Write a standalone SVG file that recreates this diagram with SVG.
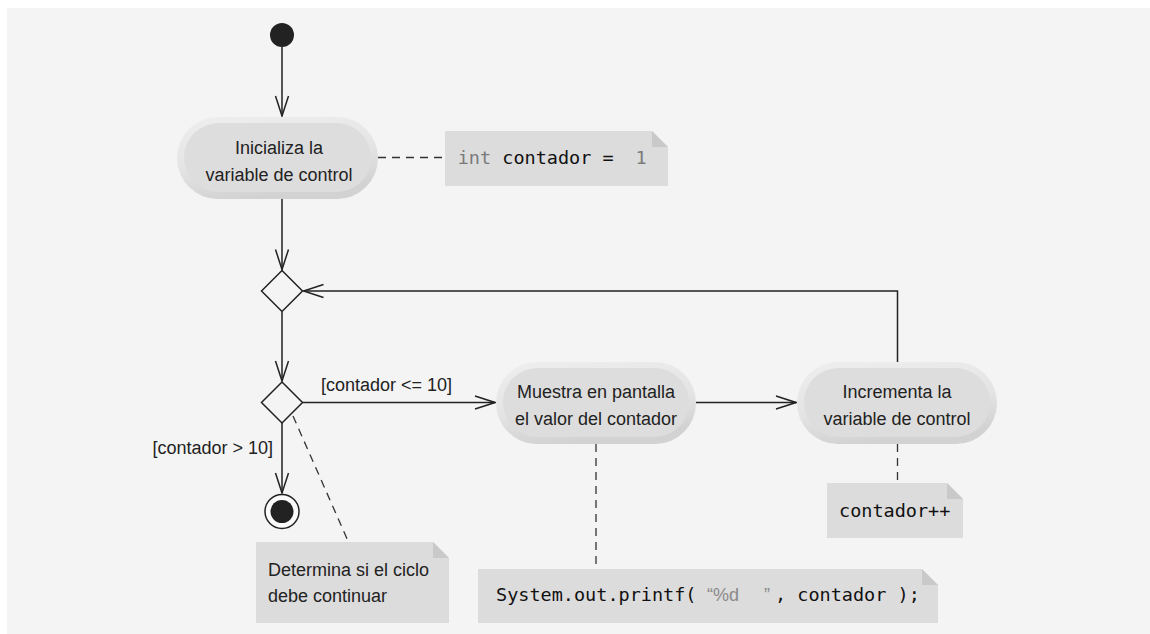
<svg xmlns="http://www.w3.org/2000/svg" width="1150" height="634" viewBox="0 0 1150 634">
<style>
.ln{fill:none;stroke:#222;stroke-width:1.5}
.dash{fill:none;stroke:#333;stroke-width:1.3;stroke-dasharray:8 6}
.txt{font-family:"Liberation Sans",Arial,sans-serif;font-size:18px;fill:#222}
.mono{font-family:"DejaVu Sans Mono","Liberation Mono",monospace;font-size:18.5px;fill:#111}
.gray{fill:#7a7a7a}
.qt{font-family:"Liberation Sans",Arial,sans-serif;font-size:18px;fill:#8a8a8a}
.note{fill:#dcdcdc}
.fold{fill:#c9c9c9}
.inner{fill:#dddddd}
.dia{fill:#f4f4f4;stroke:#222;stroke-width:1.5}
</style>
<defs>
<linearGradient id="rim" x1="0" y1="0" x2="0.3" y2="1">
<stop offset="0" stop-color="#eeeeee"/>
<stop offset="0.6" stop-color="#e4e4e4"/>
<stop offset="1" stop-color="#d2d2d2"/>
</linearGradient>
<marker id="arr" viewBox="-23 -9 25 18" refX="0" refY="0" markerWidth="25" markerHeight="18" markerUnits="userSpaceOnUse" orient="auto">
<path d="M-20,-6.5 L0,0 L-20,6.5" fill="none" stroke="#222" stroke-width="1.5"/>
</marker>
</defs>
<rect x="7" y="8" width="1143" height="626" fill="#f4f4f4"/>

<g id="connectors">
<line class="ln" x1="282" y1="47" x2="282" y2="116" marker-end="url(#arr)"/>
<line class="ln" x1="282" y1="199" x2="282" y2="269.5" marker-end="url(#arr)"/>
<line class="ln" x1="282" y1="311.5" x2="282" y2="381" marker-end="url(#arr)"/>
<line class="ln" x1="282" y1="423" x2="282" y2="493" marker-end="url(#arr)"/>
<line class="ln" x1="302.5" y1="402.5" x2="495" y2="402.5" marker-end="url(#arr)"/>
<line class="ln" x1="696" y1="402.5" x2="796" y2="402.5" marker-end="url(#arr)"/>
<polyline class="ln" points="897.5,362 897.5,291 303.5,291" marker-end="url(#arr)"/>
<line class="dash" x1="378" y1="157.5" x2="445" y2="157.5"/>
<line class="dash" x1="293" y1="416" x2="348" y2="541"/>
<line class="dash" x1="596" y1="444" x2="596" y2="569"/>
<line class="dash" x1="897.5" y1="444" x2="897.5" y2="483"/>
</g>

<g id="initial">
<circle cx="282" cy="35" r="12" fill="#222"/>
</g>

<g id="action-init">
<rect x="177" y="117" width="201" height="82" rx="41" fill="url(#rim)"/>
<rect x="184" y="123" width="187" height="69" rx="34.5" class="inner"/>
<text class="txt" x="279" y="154" text-anchor="middle">Inicializa la</text>
<text class="txt" x="279" y="181" text-anchor="middle">variable de control</text>
</g>

<g id="note-init">
<path class="note" d="M445,131 H652 L668,147 V186 H445 Z"/>
<path class="fold" d="M652,131 L668,147 H652 Z"/>
<text class="mono" y="164"><tspan class="gray" x="457.7">int</tspan><tspan x="502.3">contador =</tspan><tspan class="gray" x="635.5">1</tspan></text>
</g>

<g id="merge">
<polygon class="dia" points="282,270.5 302.5,291 282,311.5 261.5,291"/>
</g>

<g id="decision">
<polygon class="dia" points="282,382 302.5,402.5 282,423 261.5,402.5"/>
<text class="txt" x="321" y="391">[contador &lt;= 10]</text>
<text class="txt" x="273" y="454" text-anchor="end">[contador &gt; 10]</text>
</g>

<g id="final">
<circle cx="282" cy="511.5" r="17" fill="#fbfbfb" stroke="#222" stroke-width="1.5"/>
<circle cx="282" cy="511.5" r="11.5" fill="#222"/>
</g>

<g id="action-print">
<rect x="496" y="362" width="200" height="82" rx="41" fill="url(#rim)"/>
<rect x="503" y="368" width="186" height="69" rx="34.5" class="inner"/>
<text class="txt" x="596" y="398" text-anchor="middle">Muestra en pantalla</text>
<text class="txt" x="596" y="425" text-anchor="middle">el valor del contador</text>
</g>

<g id="action-inc">
<rect x="797" y="362" width="200" height="82" rx="41" fill="url(#rim)"/>
<rect x="804" y="368" width="186" height="69" rx="34.5" class="inner"/>
<text class="txt" x="897" y="398" text-anchor="middle">Incrementa la</text>
<text class="txt" x="897" y="425" text-anchor="middle">variable de control</text>
</g>

<g id="note-inc">
<path class="note" d="M827,483 H947 L963,499 V538 H827 Z"/>
<path class="fold" d="M947,483 L963,499 H947 Z"/>
<text class="mono" x="839" y="517">contador++</text>
</g>

<g id="note-decision">
<path class="note" d="M256,542 H433 L449,558 V623 H256 Z"/>
<path class="fold" d="M433,542 L449,558 H433 Z"/>
<text class="txt" x="268" y="576">Determina si el ciclo</text>
<text class="txt" x="268" y="602">debe continuar</text>
</g>

<g id="note-print">
<path class="note" d="M478,569 H922 L938,585 V623 H478 Z"/>
<path class="fold" d="M922,569 L938,585 H922 Z"/>
<text class="mono" y="601"><tspan x="496">System.out.printf(</tspan><tspan class="qt" x="707">“%d</tspan><tspan class="qt" x="764">”</tspan><tspan x="775">, contador );</tspan></text>
</g>
</svg>
